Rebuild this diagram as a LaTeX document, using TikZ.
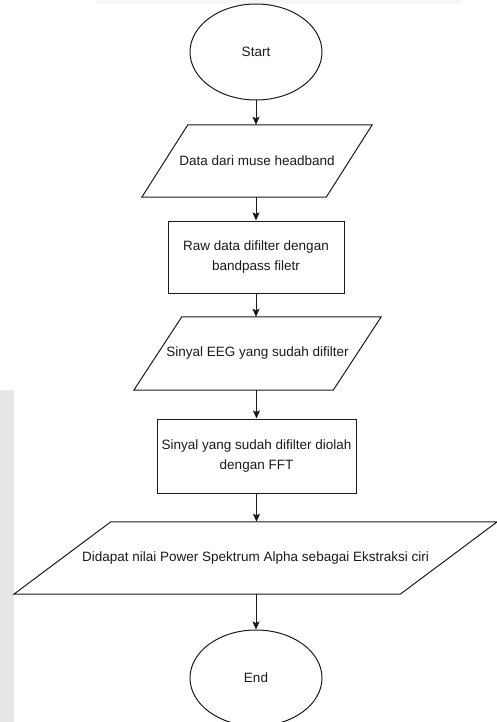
\documentclass[tikz,border=0pt]{standalone}
\usepackage{fontspec}
\setmainfont{Liberation Sans}
\usetikzlibrary{shapes.geometric,arrows.meta}
\definecolor{ln}{HTML}{1A1A1A}
\definecolor{strip}{HTML}{E7E7E9}
\definecolor{band}{HTML}{F6F6F6}
\begin{document}
\begin{tikzpicture}[x=1pt,y=-1pt,
  every node/.style={font=\fontsize{13.5}{19.5}\selectfont, text=ln},
  term/.style={ellipse, draw=ln, line width=1pt, minimum width=132pt, minimum height=96pt, inner sep=0pt},
  procbox/.style={rectangle, draw=ln, line width=1pt, align=center, inner sep=0pt},
  iobox/.style={rectangle, align=center, inner sep=0pt},
  para/.style={draw=ln, line width=1pt, line join=miter},
  flow/.style={draw=ln, line width=1pt, -{Stealth[length=8pt,width=7pt,inset=1.5pt]}}
]
\useasboundingbox (0,0) rectangle (496,722);
\fill[strip] (0,390) rectangle (14,722);
\fill[band] (97,0) rectangle (461,4);

\node[term] (start) at (256,52) {Start};

\node[iobox, minimum width=184pt, minimum height=72pt] (p1) at (257,161) {Data dari muse headband};
\draw[para] ([xshift=23pt]p1.north west) -- ([xshift=23pt]p1.north east) -- ([xshift=-23pt]p1.south east) -- ([xshift=-23pt]p1.south west) -- cycle;

\node[procbox, minimum width=176pt, minimum height=72pt] (r1) at (256,257) {Raw data difilter dengan\\bandpass filetr};

\node[iobox, minimum width=199pt, minimum height=73pt] (p2) at (257.5,353.5) {Sinyal EEG yang sudah difilter};
\draw[para] ([xshift=24pt]p2.north west) -- ([xshift=24pt]p2.north east) -- ([xshift=-24pt]p2.south east) -- ([xshift=-24pt]p2.south west) -- cycle;

\node[procbox, minimum width=199pt, minimum height=74pt] (r2) at (256.5,456) {Sinyal yang sudah difilter diolah\\dengan FFT};

\node[iobox, minimum width=386pt, minimum height=72pt] (p3) at (255.5,558) {Didapat nilai Power Spektrum Alpha sebagai Ekstraksi ciri};
\draw[para] ([xshift=48.5pt]p3.north west) -- ([xshift=48.5pt]p3.north east) -- ([xshift=-48.5pt]p3.south east) -- ([xshift=-48.5pt]p3.south west) -- cycle;

\node[term] (end) at (256,678) {End};

\draw[flow] (start.south) -- (start.south |- p1.north);
\draw[flow] (r1.north |- p1.south) -- (r1.north);
\draw[flow] (r1.south) -- (r1.south |- p2.north);
\draw[flow] (r2.north |- p2.south) -- (r2.north);
\draw[flow] (r2.south) -- (r2.south |- p3.north);
\draw[flow] (end.north |- p3.south) -- (end.north);
\end{tikzpicture}
\end{document}
